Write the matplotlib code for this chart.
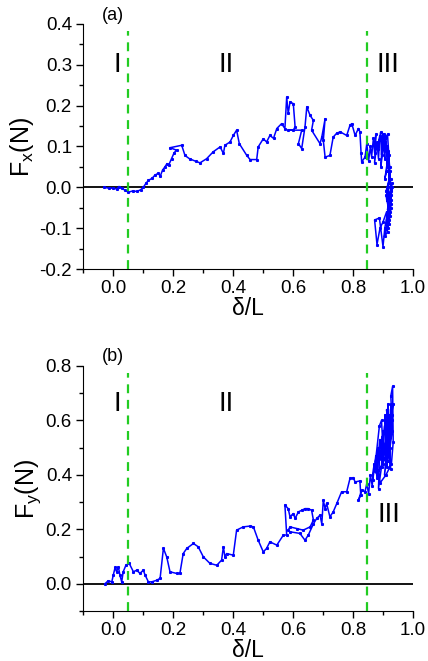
import matplotlib
matplotlib.use("Agg")
import matplotlib.pyplot as plt
from matplotlib.ticker import MultipleLocator, FormatStrFormatter

plt.rcParams['font.family'] = ['Liberation Sans', 'DejaVu Sans']
plt.rcParams['mathtext.fontset'] = 'custom'
plt.rcParams['mathtext.rm'] = 'Liberation Sans'
plt.rcParams['mathtext.it'] = 'Liberation Sans'

# Horizontal force Fx versus normalised displacement (regions I and II)
fx_delta_main = [-0.029, -0.015, 0.0, 0.012, 0.020, 0.029, 0.040, 0.051, 0.065, 0.080, 0.092, 0.101,
                 0.110, 0.118, 0.130, 0.140, 0.150, 0.158, 0.165, 0.173, 0.180, 0.186, 0.195, 0.204,
                 0.212, 0.190, 0.229, 0.240, 0.255, 0.275, 0.290, 0.312, 0.334, 0.357, 0.368, 0.373,
                 0.390, 0.401, 0.412, 0.421, 0.446, 0.457, 0.479, 0.484, 0.501, 0.512, 0.523, 0.535,
                 0.546, 0.562, 0.573, 0.579, 0.584, 0.590, 0.601, 0.607, 0.601, 0.584, 0.629, 0.618,
                 0.629, 0.640, 0.646, 0.657, 0.668, 0.662, 0.690, 0.696, 0.707, 0.701, 0.707, 0.723,
                 0.734, 0.745, 0.757, 0.779, 0.790, 0.796, 0.807, 0.818, 0.823, 0.827, 0.829, 0.840]
fx_force_main = [0.000, -0.002, -0.002, -0.004, 0.002, -0.002, -0.007, -0.012, -0.009, -0.010, -0.006, 0.000,
                 0.010, 0.017, 0.022, 0.030, 0.034, 0.028, 0.042, 0.050, 0.058, 0.055, 0.070, 0.085,
                 0.091, 0.097, 0.103, 0.078, 0.070, 0.064, 0.060, 0.070, 0.087, 0.099, 0.083, 0.103,
                 0.111, 0.127, 0.140, 0.107, 0.078, 0.068, 0.068, 0.099, 0.119, 0.111, 0.127, 0.120,
                 0.144, 0.156, 0.144, 0.221, 0.181, 0.209, 0.205, 0.148, 0.140, 0.140, 0.140, 0.107,
                 0.095, 0.148, 0.197, 0.176, 0.164, 0.140, 0.107, 0.123, 0.168, 0.115, 0.074, 0.078,
                 0.123, 0.132, 0.136, 0.127, 0.152, 0.156, 0.127, 0.144, 0.136, 0.083, 0.062, 0.074]

# Fx in region III
fx_delta_end = [0.846, 0.852, 0.858, 0.862, 0.868, 0.872, 0.876, 0.872, 0.880, 0.885, 0.889, 0.884,
                0.892, 0.895, 0.899, 0.893, 0.903, 0.906, 0.902, 0.910, 0.908, 0.914, 0.906, 0.912,
                0.918, 0.921, 0.910, 0.915, 0.922, 0.926, 0.912, 0.918, 0.925, 0.930, 0.915, 0.924,
                0.928, 0.912, 0.920, 0.926, 0.915, 0.922, 0.905, 0.915, 0.912, 0.900, 0.890, 0.880,
                0.872, 0.888, 0.900, 0.906, 0.918, 0.910, 0.922, 0.915, 0.925, 0.918, 0.922, 0.912,
                0.920, 0.905, 0.915, 0.928, 0.920, 0.925, 0.930]
fx_force_end = [0.107, 0.065, 0.100, 0.075, 0.120, 0.085, 0.130, 0.060, 0.110, 0.070, 0.125, 0.095,
                0.135, 0.080, 0.130, 0.050, 0.120, 0.070, 0.130, 0.090, 0.125, 0.060, 0.020, 0.040,
                0.090, 0.020, -0.010, -0.020, 0.040, -0.010, -0.030, -0.040, -0.005, 0.010, -0.055, -0.060,
                -0.030, -0.080, -0.090, -0.050, -0.100, -0.070, -0.120, -0.110, -0.060, -0.085, -0.100, -0.140,
                -0.080, -0.075, -0.145, -0.100, -0.050, -0.020, -0.030, 0.000, 0.020, 0.050, 0.050, 0.100,
                0.080, 0.110, 0.130, -0.020, -0.080, -0.040, 0.000]

# Vertical force Fy versus normalised displacement (regions I and II)
fy_delta_main = [-0.027, -0.016, -0.004, 0.001, 0.007, 0.012, 0.018, 0.023, 0.029, 0.034, 0.043, 0.054,
                 0.068, 0.079, 0.090, 0.101, 0.107, 0.118, 0.129, 0.146, 0.157, 0.168, 0.179, 0.190,
                 0.212, 0.223, 0.234, 0.246, 0.268, 0.284, 0.301, 0.323, 0.346, 0.362, 0.368, 0.373,
                 0.379, 0.401, 0.412, 0.434, 0.457, 0.468, 0.484, 0.501, 0.512, 0.523, 0.546, 0.568,
                 0.579, 0.573, 0.584, 0.590, 0.601, 0.607, 0.618, 0.629, 0.640, 0.651, 0.662, 0.668,
                 0.657, 0.634, 0.612, 0.590, 0.584, 0.590, 0.623, 0.640, 0.651, 0.668, 0.679, 0.690,
                 0.696, 0.701, 0.707, 0.712, 0.723, 0.734, 0.746, 0.762, 0.779, 0.790, 0.801, 0.807,
                 0.823, 0.826, 0.818, 0.829, 0.840]
fy_force_main = [0.000, 0.011, 0.007, 0.032, 0.060, 0.044, 0.062, 0.032, 0.007, 0.044, 0.068, 0.075,
                 0.044, 0.050, 0.038, 0.050, 0.032, 0.007, 0.007, 0.013, 0.020, 0.130, 0.099, 0.044,
                 0.038, 0.038, 0.111, 0.130, 0.148, 0.136, 0.099, 0.075, 0.068, 0.087, 0.136, 0.099,
                 0.111, 0.105, 0.197, 0.209, 0.212, 0.209, 0.160, 0.117, 0.130, 0.154, 0.142, 0.179,
                 0.179, 0.289, 0.276, 0.246, 0.258, 0.240, 0.264, 0.270, 0.276, 0.276, 0.270, 0.234,
                 0.209, 0.197, 0.203, 0.209, 0.197, 0.191, 0.185, 0.160, 0.179, 0.220, 0.240, 0.252,
                 0.220, 0.307, 0.276, 0.295, 0.246, 0.264, 0.295, 0.338, 0.338, 0.387, 0.390, 0.374,
                 0.378, 0.325, 0.307, 0.344, 0.338]

# Fy in region III
fy_delta_end = [0.846, 0.852, 0.858, 0.864, 0.870, 0.866, 0.876, 0.880, 0.885, 0.878, 0.890, 0.885,
                0.895, 0.900, 0.892, 0.905, 0.900, 0.910, 0.906, 0.915, 0.910, 0.918, 0.912, 0.920,
                0.916, 0.925, 0.920, 0.928, 0.922, 0.930, 0.926, 0.932, 0.934, 0.928, 0.910, 0.890,
                0.875, 0.888, 0.895, 0.900, 0.920, 0.930, 0.925, 0.933, 0.915, 0.880, 0.870, 0.898,
                0.908, 0.922, 0.905, 0.918, 0.928, 0.912, 0.924, 0.930]
fy_force_end = [0.368, 0.330, 0.400, 0.360, 0.440, 0.380, 0.470, 0.390, 0.500, 0.420, 0.530, 0.350,
                0.430, 0.560, 0.460, 0.580, 0.440, 0.520, 0.620, 0.450, 0.600, 0.520, 0.640, 0.550,
                0.660, 0.420, 0.580, 0.660, 0.500, 0.600, 0.690, 0.725, 0.520, 0.440, 0.400, 0.370,
                0.450, 0.580, 0.600, 0.500, 0.470, 0.560, 0.640, 0.660, 0.480, 0.400, 0.420, 0.540,
                0.480, 0.620, 0.400, 0.500, 0.580, 0.430, 0.540, 0.620]

region_bounds = [0.05, 0.845]
region_labels = ['I', 'II', 'III']

W, H = 428, 661
fig = plt.figure(figsize=(W / 100, H / 100), dpi=100)

panels = [
    dict(rect=(83, 24, 413, 269), x=fx_delta_main + fx_delta_end, y=fx_force_main + fx_force_end,
         ylim=(-0.2, 0.4), ymaj=0.1, ylabel='F$_\\mathregular{x}$(N)', tag='(a)',
         label_pos=[(0.015, 0.30), (0.377, 0.30), (0.917, 0.30)]),
    dict(rect=(83, 366, 413, 611), x=fy_delta_main + fy_delta_end, y=fy_force_main + fy_force_end,
         ylim=(-0.1, 0.8), ymaj=0.2, ylabel='F$_\\mathregular{y}$(N)', tag='(b)',
         label_pos=[(0.015, 0.66), (0.377, 0.66), (0.92, 0.253)]),
]

for p in panels:
    l, t, r, b = p['rect']
    ax = fig.add_axes([l / W, 1 - b / H, (r - l) / W, (b - t) / H])
    ax.plot(p['x'], p['y'], color='#0000ff', lw=1.1, marker='s', ms=1.2, zorder=3)
    ax.axhline(0, color='black', lw=1.3, zorder=2)
    for xb in region_bounds:
        ax.axvline(xb, ymax=0.97, color='#22cc22', lw=1.6, ls=(0, (4, 3)), zorder=4)
    for txt, (tx, ty) in zip(region_labels, p['label_pos']):
        ax.text(tx, ty, txt, fontsize=20, ha='center', va='center')
    ax.set_xlim(-0.1, 1.0)
    ax.set_ylim(*p['ylim'])
    ax.set_xticks([0.0, 0.2, 0.4, 0.6, 0.8, 1.0])
    ax.xaxis.set_minor_locator(MultipleLocator(0.1))
    ax.yaxis.set_major_locator(MultipleLocator(p['ymaj']))
    ax.yaxis.set_minor_locator(MultipleLocator(p['ymaj'] / 2))
    ax.xaxis.set_major_formatter(FormatStrFormatter('%.1f'))
    ax.yaxis.set_major_formatter(FormatStrFormatter('%.1f'))
    ax.spines['top'].set_visible(False)
    ax.spines['right'].set_visible(False)
    ax.tick_params(which='major', direction='out', length=5, width=1, labelsize=13.5, pad=3)
    ax.tick_params(which='minor', direction='out', length=3, width=1)
    ax.set_ylabel(p['ylabel'], fontsize=18, labelpad=2)
    ax.set_xlabel('δ/L', fontsize=16.5, labelpad=0)
    fig.text(113 / W, 1 - (t - 9) / H, p['tag'], fontsize=13, ha='center', va='center')

fig.savefig('out.png', dpi=100)
